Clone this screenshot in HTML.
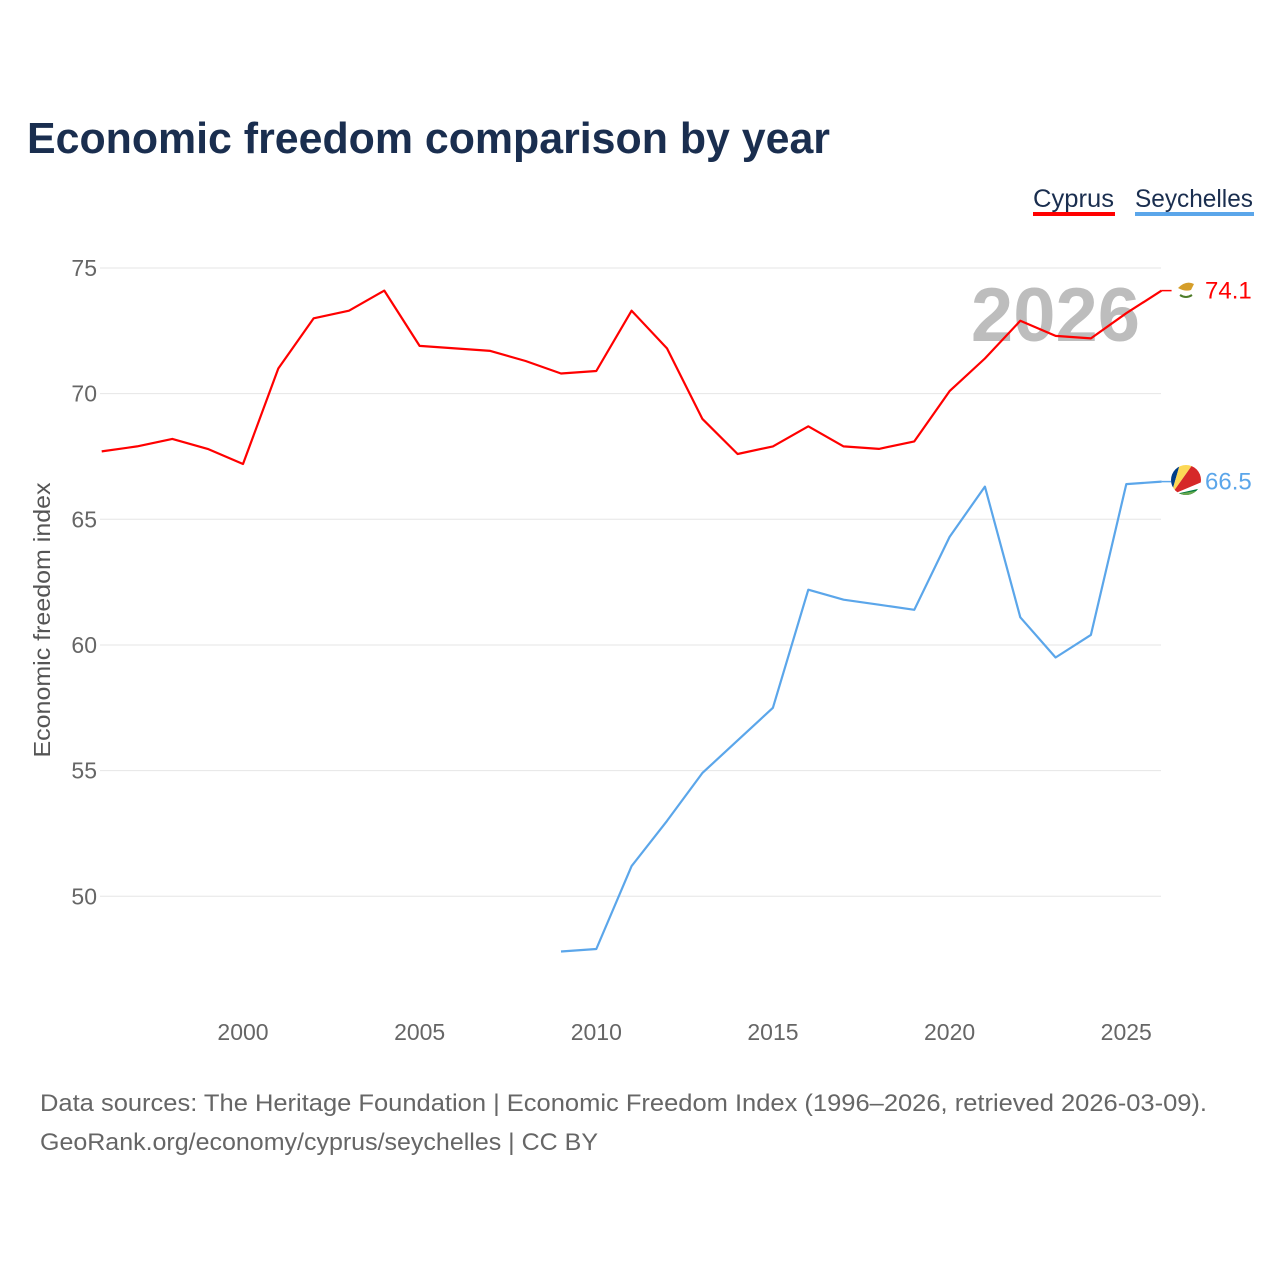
<!DOCTYPE html>
<html><head><meta charset="utf-8">
<style>
html,body{margin:0;padding:0;background:#fff;}
body{width:1280px;height:1280px;overflow:hidden;font-family:"Liberation Sans",sans-serif;}
</style></head>
<body>
<svg id="chart" width="1280" height="1280" xmlns="http://www.w3.org/2000/svg" font-family="Liberation Sans, sans-serif">
<text x="27" y="153" font-size="44" font-weight="bold" fill="#1a2e4f" textLength="803" lengthAdjust="spacingAndGlyphs">Economic freedom comparison by year</text>
<g>
<text x="1033" y="207" font-size="25" fill="#1a2e4f" textLength="81" lengthAdjust="spacingAndGlyphs">Cyprus</text>
<rect x="1033" y="212" width="82" height="4" fill="#ff0000"/>
<text x="1135" y="207" font-size="25" fill="#1a2e4f" textLength="118" lengthAdjust="spacingAndGlyphs">Seychelles</text>
<rect x="1135" y="212" width="119" height="4" fill="#5ba6ea"/>
</g>
<g id="grid"></g>
<g id="yticks"></g>
<g id="xticks"></g>
<text x="1140" y="341" font-size="76" font-weight="bold" fill="#bdbdbd" text-anchor="end">2026</text>
<text transform="translate(50,620) rotate(-90)" font-size="23" fill="#555" text-anchor="middle" textLength="275" lengthAdjust="spacingAndGlyphs">Economic freedom index</text>
<g id="series"></g>
<g>
<circle cx="1186" cy="288" r="14" fill="#fff"/>
<path d="M1178 288 q8 -8 16 -4 l-3 6 q-6 2 -13 -2z" fill="#d59e2a"/>
<path d="M1180 295 q6 4 12 0" stroke="#4e7d2a" stroke-width="2" fill="none"/>
</g>
<g>
<clipPath id="fc"><circle cx="1186" cy="480" r="15"/></clipPath>
<g clip-path="url(#fc)">
<rect x="1170" y="464" width="32" height="32" fill="#fff"/>
<polygon points="1171,495 1171,464 1180,464" fill="#003d88"/>
<polygon points="1171,495 1180,464 1193,464" fill="#fcd856"/>
<polygon points="1171,495 1193,464 1202,464 1202,482" fill="#d62828"/>
<polygon points="1171,495 1202,488 1202,496" fill="#007a3d"/>
<polygon points="1171,495 1202,490 1202,498 1171,498" fill="#6aa84f"/>
</g>
</g>
<text id="lab-c" x="1205" y="296" font-size="24" fill="#ff0000">74.1</text>
<text id="lab-s" x="1205" y="488" font-size="24" fill="#5ba6ea">66.5</text>
<text x="40" y="1111" font-size="24" fill="#666" textLength="1167" lengthAdjust="spacingAndGlyphs">Data sources: The Heritage Foundation | Economic Freedom Index (1996–2026, retrieved 2026-03-09).</text>
<text x="40" y="1150" font-size="24" fill="#666" textLength="558" lengthAdjust="spacingAndGlyphs">GeoRank.org/economy/cyprus/seychelles | CC BY</text>
</svg>
<script>
const cyprusYears = [1996,1997,1998,1999,2000,2001,2002,2003,2004,2005,2006,2007,2008,2009,2010,2011,2012,2013,2014,2015,2016,2017,2018,2019,2020,2021,2022,2023,2024,2025,2026];
const cyprusValues = [67.7,67.9,68.2,67.8,67.2,71.0,73.0,73.3,74.1,71.9,71.8,71.7,71.3,70.8,70.9,73.3,71.8,69.0,67.6,67.9,68.7,67.9,67.8,68.1,70.1,71.4,72.9,72.3,72.2,73.2,74.1];
const seychellesYears = [2009,2010,2011,2012,2013,2014,2015,2016,2017,2018,2019,2020,2021,2022,2023,2024,2025,2026];
const seychellesValues = [47.8,47.9,51.2,53.0,54.9,56.2,57.5,62.2,61.8,61.6,61.4,64.3,66.3,61.1,59.5,60.4,66.4,66.5];
const yTicks = [50,55,60,65,70,75];
const xTicks = [2000,2005,2010,2015,2020,2025];

const NS = "http://www.w3.org/2000/svg";
function xs(yr){ return 243 + (yr-2000)*35.33; }
function ys(v){ return 268 + (75-v)*25.13; }
function mk(tag, attrs, parent){
  const e = document.createElementNS(NS, tag);
  for (const k in attrs) e.setAttribute(k, attrs[k]);
  parent.appendChild(e); return e;
}
const grid = document.getElementById('grid');
const yt = document.getElementById('yticks');
const xt = document.getElementById('xticks');
const ser = document.getElementById('series');
yTicks.forEach(t => {
  const l = mk('line', {x1:100, x2:1161, y1:ys(t), y2:ys(t), stroke:'#e6e6e6', 'stroke-width':1}, grid);
  
  
  const tx = mk('text', {x:97, y:ys(t)+8, 'font-size':23, fill:'#666', 'text-anchor':'end'}, yt);
  tx.textContent = t;
  
  
});
xTicks.forEach(t => {
  const tx = mk('text', {x:xs(t), y:1040, 'font-size':23, fill:'#666', 'text-anchor':'middle'}, xt);
  tx.textContent = t;
  
  
});
function line(years, vals, color, name){
  const d = years.map((y,i) => (i?'L':'M') + xs(y).toFixed(1) + ' ' + ys(vals[i]).toFixed(1)).join(' ');
  const p = mk('path', {d:d, fill:'none', stroke:color, 'stroke-width':2.2, 'stroke-linejoin':'round'}, ser);
  
  
  const last = vals.length-1;
  mk('line', {x1:xs(years[last]), x2:xs(years[last])+10, y1:ys(vals[last]), y2:ys(vals[last]), stroke:color, 'stroke-width':1.5}, ser);
}
line(cyprusYears, cyprusValues, '#ff0000', 'cyprus-line');
line(seychellesYears, seychellesValues, '#5ba6ea', 'seychelles-line');
const lc = document.getElementById('lab-c');
lc.textContent = cyprusValues[cyprusValues.length-1].toFixed(1);
lc.setAttribute('y', ys(cyprusValues[cyprusValues.length-1])+8);
const ls = document.getElementById('lab-s');
ls.textContent = seychellesValues[seychellesValues.length-1].toFixed(1);
ls.setAttribute('y', ys(seychellesValues[seychellesValues.length-1])+8);
</script>
</body></html>
